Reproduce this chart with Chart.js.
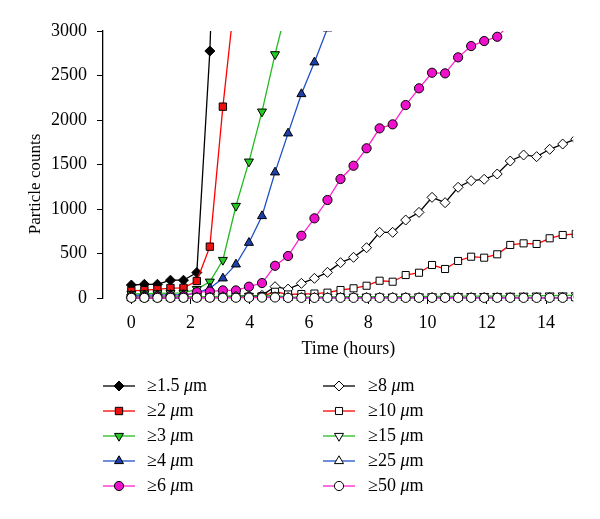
<!DOCTYPE html>
<html><head><meta charset="utf-8">
<script src="https://cdn.jsdelivr.net/npm/chart.js@4.4.1/dist/chart.umd.min.js"></script>
<style>html,body{margin:0;padding:0;background:#fff;}#wrap{width:600px;height:519px;}</style>
</head><body><div id="wrap"><canvas id="c" width="600" height="519"></canvas></div>
<script>
// ---- data ----
const hours = [0.00,0.44,0.88,1.32,1.76,2.21,2.65,3.09,3.53,3.97,4.41,4.85,5.29,5.74,6.18,6.62,7.06,7.50,7.94,8.38,8.82,9.26,9.71,10.15,10.59,11.03,11.47,11.91,12.35,12.79,13.24,13.68,14.12,14.56,15.00];
const xTickValues = [0,2,4,6,8,10,12,14];
const yTickValues = [0,500,1000,1500,2000,2500,3000];
const sizeLabels = ['1.5','2','3','4','6','8','10','15','25','50'];
const ge1_5 = [146,154,154,200,200,286,2775,7000];
const ge2   = [80,88,98,112,114,191,577,2150,3500];
const ge3   = [45,50,52,55,58,100,183,427,1034,1532,2094,2738,3320];
const ge4   = [30,32,32,35,35,55,110,221,378,621,921,1412,1850,2292,2648,3030];
const ge6   = [15,15,18,20,20,65,72,85,85,127,168,362,472,700,895,1101,1337,1486,1682,1906,1951,2168,2356,2531,2524,2704,2831,2887,2935,3080];
const ge8   = [5,5,5,5,5,8,10,15,20,25,30,127,100,165,221,288,397,457,565,738,738,876,962,1131,1071,1244,1318,1334,1393,1539,1607,1588,1671,1730,1785];
const ge10  = [3,3,3,3,3,5,5,8,10,15,20,70,40,45,50,60,90,109,138,194,183,258,284,371,326,416,464,453,491,596,614,607,671,708,720];
const ge15  = [10,10,10,12,12,15,15,18,20,22,25,30,10,10,12,12,14,14,15,15,15,16,17,18,18,20,20,22,22,24,25,26,27,28,30];
const ge25  = [3,3,3,3,3,5,5,5,6,8,10,12,3,3,3,3,3,3,3,3,3,3,3,3,3,3,3,3,2,2,2,2,2,2,2];
const ge50  = [2,2,2,2,2,3,3,3,3,4,5,6,2,2,2,2,2,2,2,2,2,2,2,2,2,2,2,2,2,2,2,2,2,2,2];

const seriesValues = [ge1_5, ge2, ge3, ge4, ge6, ge8, ge10, ge15, ge25, ge50];
const lineColors  = ['#000000','#ff0000','#22bb22','#1f4fc8','#ff22cc','#000000','#ff0000','#22bb22','#1f4fc8','#ff22cc'];
const fillColors  = ['#000000','#ee1111','#22cc22','#1f3fa8','#ee11cc','#ffffff','#ffffff','#ffffff','#ffffff','#ffffff'];
const markerStyles = ['rectRot','rect','triangle','triangle','circle','rectRot','rect','triangle','triangle','circle'];
const markerRotation = [0,0,180,0,0,0,0,180,0,0];
const markerRadius = [5,5.2,5.2,5.2,4.6,5,5,5.2,5.2,4.6];
const yTitle = 'Particle counts';

const SERIF = "'Liberation Serif','Times New Roman',serif";

const datasets = seriesValues.map((vals, i) => ({
  label: '\u2265' + sizeLabels[i] + ' \u03bcm',
  data: vals.map((v, k) => ({x: hours[k], y: v})),
  borderColor: lineColors[i],
  backgroundColor: fillColors[i],
  borderWidth: 1.3,
  pointStyle: markerStyles[i],
  pointRotation: markerRotation[i],
  pointRadius: markerRadius[i],
  pointHoverRadius: markerRadius[i],
  pointBackgroundColor: fillColors[i],
  pointBorderColor: '#000000',
  pointBorderWidth: 1,
  tension: 0,
  order: 10 - i,
  clip: {left: 30, top: 0, right: -20.5, bottom: 20}
}));

function drawMarker(ctx, style, r, rot, x, y) {
  if (Chart.helpers && Chart.helpers.drawPoint) {
    Chart.helpers.drawPoint(ctx, {pointStyle: style, radius: r, rotation: rot, borderWidth: 1}, x, y);
    return;
  }
  ctx.beginPath();
  if (style === 'circle') ctx.arc(x, y, r, 0, Math.PI * 2);
  else if (style === 'rect') { const s = r * Math.SQRT1_2; ctx.rect(x - s, y - s, 2 * s, 2 * s); }
  else if (style === 'rectRot') { ctx.moveTo(x - r, y); ctx.lineTo(x, y - r); ctx.lineTo(x + r, y); ctx.lineTo(x, y + r); ctx.closePath(); }
  else { const d = rot ? -1 : 1; ctx.moveTo(x, y - d * r); ctx.lineTo(x + r * 0.866, y + d * r / 2); ctx.lineTo(x - r * 0.866, y + d * r / 2); ctx.closePath(); }
  ctx.fill(); ctx.stroke();
}

const legendPlugin = {
  id: 'sizeLegend',
  afterDraw(chart) {
    const ctx = chart.ctx;
    const cols = [{x0: 103, x1: 135, tx: 147}, {x0: 323, x1: 355, tx: 368}];
    const rows = [386, 411, 436, 461, 486];
    ctx.save();
    // y axis title
    ctx.save();
    ctx.translate(36, 184);
    ctx.rotate(-Math.PI / 2);
    ctx.font = '17px ' + SERIF;
    ctx.fillStyle = '#000000';
    ctx.textAlign = 'center';
    ctx.textBaseline = 'middle';
    ctx.fillText(yTitle, 0, 0);
    ctx.restore();
    seriesValues.forEach((_, i) => {
      const c = cols[i < 5 ? 0 : 1];
      const y = rows[i % 5];
      ctx.strokeStyle = lineColors[i];
      ctx.lineWidth = 1.3;
      ctx.beginPath(); ctx.moveTo(c.x0, y); ctx.lineTo(c.x1, y); ctx.stroke();
      ctx.fillStyle = fillColors[i];
      ctx.strokeStyle = '#000000';
      ctx.lineWidth = 1;
      drawMarker(ctx, markerStyles[i], markerRadius[i], markerRotation[i], (c.x0 + c.x1) / 2, y);
      ctx.fillStyle = '#000000';
      ctx.textBaseline = 'middle';
      ctx.textAlign = 'left';
      let x = c.tx;
      ctx.font = '18px ' + SERIF;
      const t1 = '\u2265' + sizeLabels[i] + '\u2009';
      ctx.fillText(t1, x, y); x += ctx.measureText(t1).width + 1;
      ctx.font = 'italic 18px ' + SERIF;
      ctx.fillText('\u03bc', x, y); x += ctx.measureText('\u03bc').width;
      ctx.font = '18px ' + SERIF;
      ctx.fillText('m', x, y);
    });
    ctx.restore();
  }
};

new Chart(document.getElementById('c'), {
  type: 'line',
  data: {datasets},
  plugins: [legendPlugin],
  options: {
    responsive: false,
    animation: false,
    devicePixelRatio: 1,
    layout: {padding: {left: 0, top: 31, right: 0, bottom: 157}},
    plugins: {legend: {display: false}, tooltip: {enabled: false}},
    scales: {
      x: {
        type: 'linear',
        min: -0.957, max: 15.61,
        afterBuildTicks: s => { s.ticks = xTickValues.map(v => ({value: v})); },
        afterFit: s => { s.height = 64; },
        border: {display: false},
        grid: {drawOnChartArea: false, drawTicks: true, tickLength: 6, color: '#000000', lineWidth: 1},
        ticks: {color: '#000000', font: {family: SERIF, size: 18}, padding: 8, maxRotation: 0, autoSkip: false, callback: v => String(v)},
        title: {display: true, text: 'Time (hours)', color: '#000000', font: {family: SERIF, size: 18}, padding: {top: 0, bottom: 2}}
      },
      y: {
        type: 'linear',
        min: 0, max: 3000,
        afterBuildTicks: s => { s.ticks = yTickValues.map(v => ({value: v})); },
        afterFit: s => { s.width = 103; },
        border: {display: true, color: '#000000', width: 1.3},
        grid: {drawOnChartArea: false, drawTicks: true, tickLength: 6, color: '#000000', lineWidth: 1},
        ticks: {color: '#000000', font: {family: SERIF, size: 18}, padding: 10, callback: v => String(v)},
        title: {display: false}
      }
    }
  }
});
</script>
</body></html>
